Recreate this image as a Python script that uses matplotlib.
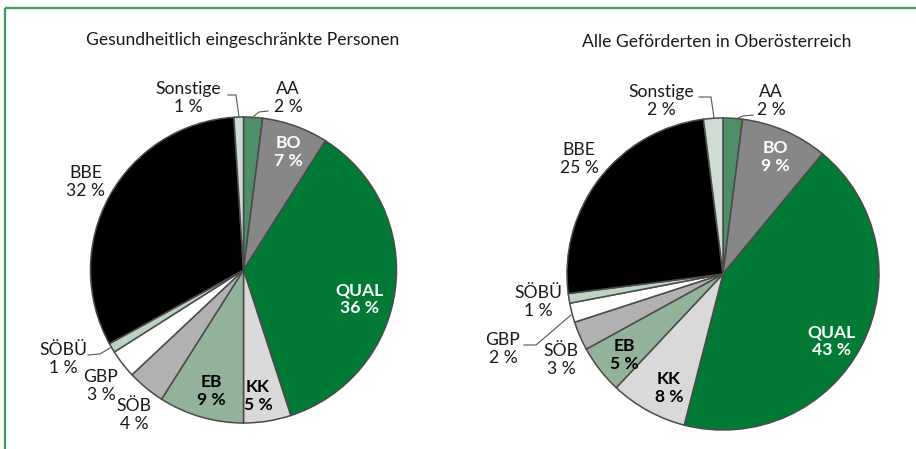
import matplotlib
matplotlib.use("Agg")
import matplotlib.pyplot as plt

plt.rcParams['font.family'] = ['Lato', 'DejaVu Sans']

# ---- data ----
categories = ["AA", "BO", "QUAL", "KK", "EB", "SÖB", "GBP", "SÖBÜ", "BBE", "Sonstige"]
values_gesund = [2, 7, 36, 5, 9, 4, 3, 1, 32, 1]
values_alle = [2, 9, 43, 8, 5, 3, 2, 1, 25, 2]
title_gesund = "Gesundheitlich eingeschränkte Personen"
title_alle = "Alle Geförderten in Oberösterreich"

# ---- styles ----
colors = {"AA": "#4e8f67", "BO": "#878787", "QUAL": "#007a35", "KK": "#d9d9d9",
          "EB": "#92b29a", "SÖB": "#b1b1b1", "GBP": "#ffffff", "SÖBÜ": "#bcd3c2",
          "BBE": "#000000", "Sonstige": "#cfdcd4"}
inside_style = {"BO": ("white", "bold"), "QUAL": ("white", "bold"),
                "KK": ("black", "bold"), "EB": ("black", "bold")}

W, H = 916, 449
fig = plt.figure(figsize=(W / 100, H / 100), dpi=100)
ax = fig.add_axes([0, 0, 1, 1])
ax.set_xlim(0, W)
ax.set_ylim(H, 0)
ax.axis("off")

# frame
ax.plot([5, 5], [H, 8], color="#3f9b5e", lw=1.6, solid_capstyle="butt")
ax.plot([5, W], [8, 8], color="#3f9b5e", lw=1.6, solid_capstyle="butt")

FS = 12.6

def draw_pie(values, center, radius, title, title_pos, label_pos, leaders):
    # y axis is inverted: startangle=-90 is 12 o'clock on screen,
    # counterclock=True runs clockwise on screen
    ax.pie(values, colors=[colors[c] for c in categories], startangle=-90,
           counterclock=True, center=center, radius=radius, frame=True,
           wedgeprops=dict(edgecolor="#4a4a4a", linewidth=1.1))
    ax.text(title_pos[0], title_pos[1], title, ha="center", va="center",
            fontsize=FS, color="#1a1a1a")
    for cat, v in zip(categories, values):
        x, y = label_pos[cat]
        col, wt = inside_style.get(cat, ("#1a1a1a", "normal"))
        ax.text(x, y, f"{cat}\n{v} %", ha="center", va="center", fontsize=FS,
                color=col, fontweight=wt, linespacing=1.15)
    for pts in leaders:
        xs, ys = zip(*pts)
        ax.plot(xs, ys, color="#555555", lw=0.8)

draw_pie(values_gesund, (243.5, 270), 153, title_gesund, (243, 40),
         {"AA": (288, 98), "BO": (288, 152), "QUAL": (360, 299), "KK": (258, 396),
          "EB": (211, 391), "SÖB": (134, 415), "GBP": (101, 386), "SÖBÜ": (63, 359),
          "BBE": (86, 182), "Sonstige": (188, 98)},
         [[(228, 95), (236, 95), (239, 117)],
          [(268, 111), (259, 112), (254, 116)],
          [(88, 355), (100, 354), (110, 348)]])

draw_pie(values_alle, (723, 274), 156, title_alle, (717, 42),
         {"AA": (771, 101), "BO": (775, 157), "QUAL": (831, 341), "KK": (669, 388),
          "EB": (624, 355), "SÖB": (561, 360), "GBP": (503, 349), "SÖBÜ": (538, 302),
          "BBE": (579, 159), "Sonstige": (661, 101)},
         [[(699, 97), (711, 97), (714, 118)],
          [(753, 115), (743, 116), (738, 118)],
          [(524, 345), (536, 345), (571, 315)]])
ax.set_xlim(0, W)
ax.set_ylim(H, 0)
ax.set_aspect("equal")
ax.axis("off")

fig.savefig("out.png", dpi=100)
